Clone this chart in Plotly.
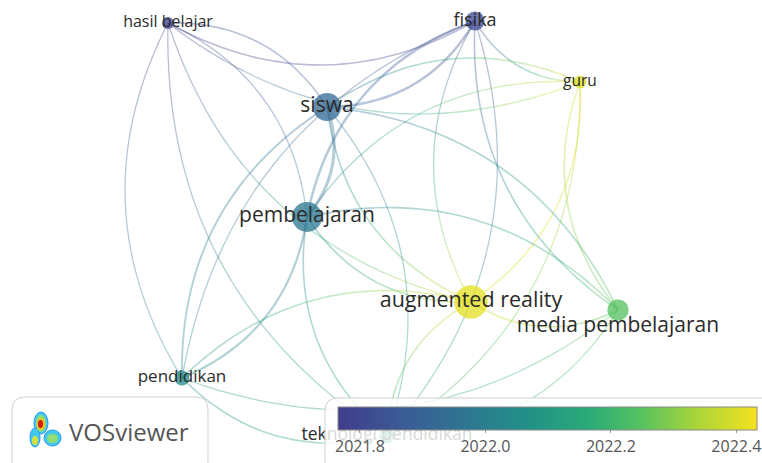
import numpy as np
import plotly.graph_objects as go
from plotly.colors import sample_colorscale

# ---------------- data ----------------
labels = ["hasil belajar", "fisika", "guru", "siswa", "pembelajaran",
          "augmented reality", "media pembelajaran", "pendidikan",
          "teknologi pendidikan"]
map_x = [168, 475, 580, 327, 307, 471, 618, 182, 387]
map_y = [23, 21, 82, 107, 217, 302, 310, 378, 436]
occurrences = [2.5, 6.5, 3, 14, 16, 20, 8, 4, 4]
avg_pub_year = [2021.78, 2021.81, 2022.40, 2021.92, 2021.975, 2022.41,
                2022.245, 2022.045, 2022.17]

link_source = ["hasil belajar", "hasil belajar", "siswa", "pembelajaran",
               "hasil belajar", "hasil belajar", "siswa", "fisika",
               "fisika", "fisika", "fisika", "fisika", "teknologi pendidikan",
               "guru", "guru", "augmented reality", "guru",
               "teknologi pendidikan", "pembelajaran", "siswa",
               "media pembelajaran", "siswa", "teknologi pendidikan",
               "pembelajaran", "media pembelajaran", "pendidikan",
               "pembelajaran", "augmented reality", "augmented reality",
               "augmented reality", "teknologi pendidikan", "pendidikan",
               "pendidikan", "hasil belajar"]
link_target = ["fisika", "pendidikan", "hasil belajar", "hasil belajar",
               "augmented reality", "teknologi pendidikan", "fisika",
               "pembelajaran", "guru", "media pembelajaran",
               "augmented reality", "pendidikan", "fisika", "siswa",
               "pembelajaran", "guru", "media pembelajaran", "guru",
               "siswa", "augmented reality", "siswa", "pendidikan",
               "siswa", "augmented reality", "pembelajaran", "pembelajaran",
               "teknologi pendidikan", "media pembelajaran",
               "teknologi pendidikan", "pendidikan", "media pembelajaran",
               "media pembelajaran", "teknologi pendidikan", "guru"]
link_strength = [1.5, 1, 1.5, 1, 1, 1, 3, 3, 1.5, 1.5, 1, 1, 1, 1.5, 1,
                 1.5, 1.5, 1, 4, 1.5, 1.5, 2, 1, 1.5, 1.5, 2.5, 1.5,
                 2, 1.5, 1.5, 1, 1, 1.5, 1]

colorbar_ticks = [2021.8, 2022.0, 2022.2, 2022.4]
colorbar_ticktext = ["2021.8", "2022.0", "2022.2", "2022.4"]

# ---------------- styles ----------------
CMIN, CMAX = 2021.765, 2022.433
SCALE = [[0.0, "#413d8b"], [0.15, "#3b5a96"], [0.3, "#2e7591"],
         [0.45, "#229088"], [0.6, "#2aab78"], [0.72, "#55c160"],
         [0.85, "#a6d43a"], [1.0, "#f5e31e"]]
label_font = {"hasil belajar": 16, "fisika": 18, "guru": 15.5, "siswa": 21,
              "pembelajaran": 21, "augmented reality": 21.5,
              "media pembelajaran": 21, "pendidikan": 17,
              "teknologi pendidikan": 17.5}
label_dy = {"media pembelajaran": 17}
FONT = "Open Sans"
N_SEG = 10

idx = {n: i for i, n in enumerate(labels)}


def year_color(v):
    t = (v - CMIN) / (CMAX - CMIN)
    t = min(max(t, 0), 1)
    return sample_colorscale(SCALE, [t])[0]


def to_rgba(c, a):
    c = c.strip()
    if c.startswith("rgb("):
        vals = c[4:-1].split(",")
    else:
        h = c.lstrip("#")
        vals = [int(h[i:i + 2], 16) for i in (0, 2, 4)]
    r, g, b = [int(float(v)) for v in vals]
    return f"rgba({r},{g},{b},{a})"


fig = go.Figure()

# links (curved, colour blending from one end to the other)
for s, t, w in zip(link_source, link_target, link_strength):
    a, b = idx[s], idx[t]
    x0, y0, x1, y1 = map_x[a], map_y[a], map_x[b], map_y[b]
    dx, dy = x1 - x0, y1 - y0
    cx = (x0 + x1) / 2 - dy * 0.28
    cy = (y0 + y1) / 2 + dx * 0.28
    tt = np.linspace(0, 1, N_SEG * 4 + 1)
    bx = (1 - tt) ** 2 * x0 + 2 * (1 - tt) * tt * cx + tt ** 2 * x1
    by = (1 - tt) ** 2 * y0 + 2 * (1 - tt) * tt * cy + tt ** 2 * y1
    for k in range(N_SEG):
        sl = slice(k * 4, k * 4 + 5)
        f = (k + 0.5) / N_SEG
        yr = avg_pub_year[a] * (1 - f) + avg_pub_year[b] * f
        fig.add_trace(go.Scatter(
            x=bx[sl], y=by[sl], mode="lines",
            line=dict(color=to_rgba(year_color(yr), 0.36),
                      width=0.7 + 0.6 * w, shape="spline"),
            hoverinfo="skip", showlegend=False))

# nodes
sizes = [7.5 * np.sqrt(w) for w in occurrences]
fig.add_trace(go.Scatter(
    x=map_x, y=map_y, mode="markers",
    marker=dict(size=sizes, color=avg_pub_year, colorscale=SCALE,
                cmin=CMIN, cmax=CMAX, opacity=0.76, line=dict(width=0),
                showscale=True,
                colorbar=dict(orientation="h", x=547.5 / 762, xanchor="center",
                              y=1 - 407 / 463, yanchor="top",
                              len=419 / 762, lenmode="fraction",
                              thickness=23, thicknessmode="pixels",
                              xpad=0, ypad=0,
                              outlinewidth=1, outlinecolor="#8a8a8a",
                              tickvals=colorbar_ticks,
                              ticktext=colorbar_ticktext,
                              ticks="outside", ticklen=3, tickcolor="#999",
                              tickfont=dict(family=FONT, size=16,
                                            color="#555"))),
    text=labels, hoverinfo="text", showlegend=False))

# labels
fig.add_trace(go.Scatter(
    x=map_x, y=[map_y[i] + label_dy.get(n, 0) for i, n in enumerate(labels)],
    mode="text", text=labels,
    textfont=dict(family=FONT, size=[label_font[n] for n in labels],
                  color="#2b2b2b"),
    textposition="middle center", hoverinfo="skip", showlegend=False))


def rounded_rect(x0, y0, x1, y1, r):
    return (f"M{x0 + r},{y0} L{x1 - r},{y0} Q{x1},{y0} {x1},{y0 + r} "
            f"L{x1},{y1 - r} Q{x1},{y1} {x1 - r},{y1} L{x0 + r},{y1} "
            f"Q{x0},{y1} {x0},{y1 - r} L{x0},{y0 + r} Q{x0},{y0} {x0 + r},{y0} Z")


shapes = [
    dict(type="path", path=rounded_rect(12, 397, 208, 475, 13),
         fillcolor="rgba(255,255,255,0.85)", line=dict(color="#cfcfcf", width=1),
         xref="x", yref="y", layer="above"),
    dict(type="path", path=rounded_rect(325, 398, 775, 475, 13),
         fillcolor="rgba(255,255,255,0.82)", line=dict(color="#cfcfcf", width=1),
         xref="x", yref="y", layer="above"),
]
# VOSviewer logo blobs (heat-map style icon)
blobs = [
    (34, 412, 48, 434, "#2a9be8", "#45c8f0"),
    (30, 428, 40, 447, "#2a9be8", "#45c8f0"),
    (44, 430, 61, 446, "#2a9be8", "#45c8f0"),
    (36, 415, 46, 432, "rgba(0,0,0,0)", "#8fe070"),
    (32, 436, 38, 445, "rgba(0,0,0,0)", "#d8e040"),
    (47, 434, 58, 443, "rgba(0,0,0,0)", "#8fe070"),
    (37, 418, 45, 430, "rgba(0,0,0,0)", "#f4c020"),
    (38, 420, 43, 428, "rgba(0,0,0,0)", "#d81e10"),
]
for x0, y0, x1, y1, lc, fc in blobs:
    shapes.append(dict(type="circle", x0=x0, y0=y0, x1=x1, y1=y1,
                       xref="x", yref="y", fillcolor=fc,
                       line=dict(color=lc, width=1), layer="above"))

fig.update_layout(
    width=762, height=463, margin=dict(l=0, r=0, t=0, b=0),
    paper_bgcolor="white", plot_bgcolor="white",
    xaxis=dict(range=[0, 762], visible=False, fixedrange=True),
    yaxis=dict(range=[463, 0], visible=False, fixedrange=True),
    shapes=shapes,
    annotations=[dict(x=67, y=431, xref="x", yref="y", text="VOSviewer",
                      showarrow=False, xanchor="left", yanchor="middle",
                      font=dict(family=FONT, size=24, color="#555"))],
)

fig.write_html("out.html")
